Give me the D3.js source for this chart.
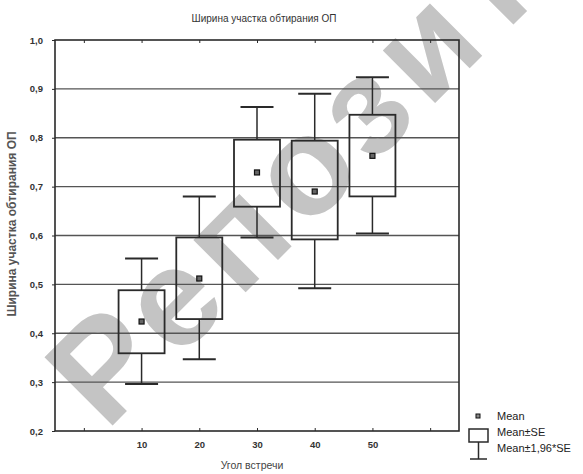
<!DOCTYPE html>
<html><head><meta charset="utf-8">
<script src="https://cdn.jsdelivr.net/npm/d3@7"></script>
<style>body{margin:0;background:#fff}svg{display:block}text{font-family:"Liberation Sans",Arial,sans-serif}</style>
</head><body>
<svg id="c" width="583" height="474"></svg>
<script>
const categories = [10, 20, 30, 40, 50];
const means  = [0.424, 0.512, 0.729, 0.690, 0.763];
const seLow  = [0.359, 0.429, 0.659, 0.592, 0.680];
const seHigh = [0.488, 0.596, 0.796, 0.794, 0.847];
const ciLow  = [0.296, 0.347, 0.596, 0.492, 0.604];
const ciHigh = [0.553, 0.680, 0.863, 0.890, 0.924];
const xTicks = [0, 10, 20, 30, 40, 50, 60];
const xTickLabels = ["", "10", "20", "30", "40", "50", ""];
const yTicks = [0.2, 0.3, 0.4, 0.5, 0.6, 0.7, 0.8, 0.9, 1.0];
const yTickLabels = ["0,2", "0,3", "0,4", "0,5", "0,6", "0,7", "0,8", "0,9", "1,0"];
const title = "Ширина участка обтирания ОП";
const yTitle = "Ширина участка обтирания ОП";
const xTitle = "Угол встречи";
const legendLabels = ["Mean", "Mean±SE", "Mean±1,96*SE"];
const watermark = "Репозиторий";

const svg = d3.select("#c");
const L = 55, R = 459, T = 40, B = 431;
const x = d3.scaleLinear().domain([-5, 65]).range([L, R]);
const y = d3.scaleLinear().domain([0.2, 1.0]).range([B, T]);
const ink = "#2a2a2a";

// watermark (behind)
svg.append("text").attr("transform", "translate(106,432) rotate(-45)")
  .attr("font-size", 140).attr("font-weight", "bold").attr("letter-spacing", 10).attr("fill", "#c4c4c4")
  .text(watermark);

// gridlines
svg.append("g").selectAll("line").data(yTicks.slice(1, -1)).join("line")
  .attr("x1", L).attr("x2", R).attr("y1", d => y(d)).attr("y2", d => y(d))
  .attr("stroke", "#555").attr("stroke-width", 1.3);

// axes
const yAxis = d3.axisLeft(y).tickValues(yTicks).tickSize(3).tickFormat((d, i) => yTickLabels[i]);
const gy = svg.append("g").attr("transform", `translate(${L},0)`).call(yAxis);
gy.select(".domain").remove();
gy.selectAll("line").attr("stroke", ink);
gy.selectAll("text").attr("font-size", 9.5).attr("font-weight", "bold").attr("fill", "#333").attr("x", -12);

const xAxis = d3.axisBottom(x).tickValues(xTicks).tickSize(-3).tickFormat((d, i) => xTickLabels[i]);
const gx = svg.append("g").attr("transform", `translate(0,${B})`).call(xAxis);
gx.select(".domain").remove();
gx.selectAll("line").attr("stroke", ink);
gx.selectAll("text").attr("font-size", 9.5).attr("font-weight", "bold").attr("fill", "#333").attr("y", 10);

const xTop = d3.axisTop(x).tickValues(xTicks).tickSize(-3).tickFormat("");
const gt = svg.append("g").attr("transform", `translate(0,${T})`).call(xTop);
gt.select(".domain").remove();
gt.selectAll("line").attr("stroke", ink);

// frame
svg.append("rect").attr("x", L).attr("y", T).attr("width", R - L).attr("height", B - T)
  .attr("fill", "none").attr("stroke", ink).attr("stroke-width", 1.6);

// boxes
const bw = 46, cw = 33;
const g = svg.append("g");
categories.forEach((c, i) => {
  const cx = x(c);
  g.append("line").attr("x1", cx).attr("x2", cx).attr("y1", y(ciHigh[i])).attr("y2", y(seHigh[i])).attr("stroke", ink).attr("stroke-width", 1.5);
  g.append("line").attr("x1", cx).attr("x2", cx).attr("y1", y(seLow[i])).attr("y2", y(ciLow[i])).attr("stroke", ink).attr("stroke-width", 1.5);
  g.append("line").attr("x1", cx - cw / 2).attr("x2", cx + cw / 2).attr("y1", y(ciHigh[i])).attr("y2", y(ciHigh[i])).attr("stroke", ink).attr("stroke-width", 2);
  g.append("line").attr("x1", cx - cw / 2).attr("x2", cx + cw / 2).attr("y1", y(ciLow[i])).attr("y2", y(ciLow[i])).attr("stroke", ink).attr("stroke-width", 2);
  g.append("rect").attr("x", cx - bw / 2).attr("y", y(seHigh[i])).attr("width", bw).attr("height", y(seLow[i]) - y(seHigh[i]))
    .attr("fill", "none").attr("stroke", ink).attr("stroke-width", 1.8);
  g.append("rect").attr("x", cx - 2.5).attr("y", y(means[i]) - 2.5).attr("width", 5).attr("height", 5)
    .attr("fill", "#666").attr("stroke", "#111").attr("stroke-width", 1.2);
});

// titles
svg.append("text").attr("x", 264).attr("y", 22).attr("text-anchor", "middle").attr("font-size", 10).attr("fill", "#333").text(title);
svg.append("text").attr("transform", "translate(16,224) rotate(-90)").attr("text-anchor", "middle").attr("font-size", 12).attr("font-weight", "bold").attr("fill", "#555").text(yTitle);
svg.append("text").attr("x", 252).attr("y", 469).attr("text-anchor", "middle").attr("font-size", 10.5).attr("fill", "#444").text(xTitle);

// legend
const lg = svg.append("g");
lg.append("rect").attr("x", 476).attr("y", 414).attr("width", 4).attr("height", 4).attr("fill", "#888").attr("stroke", "#111").attr("stroke-width", 1);
lg.append("rect").attr("x", 469).attr("y", 429).attr("width", 19).attr("height", 13).attr("fill", "none").attr("stroke", ink).attr("stroke-width", 1.5);
lg.append("line").attr("x1", 478.5).attr("x2", 478.5).attr("y1", 442).attr("y2", 459).attr("stroke", ink).attr("stroke-width", 1.5);
lg.append("line").attr("x1", 470).attr("x2", 487).attr("y1", 459).attr("y2", 459).attr("stroke", ink).attr("stroke-width", 1.5);
const ly = [420, 436, 452];
lg.selectAll("text").data(legendLabels).join("text").attr("x", 497).attr("y", (d, i) => ly[i])
  .attr("font-size", 11).attr("fill", "#222").text(d => d);
</script>
</body></html>
